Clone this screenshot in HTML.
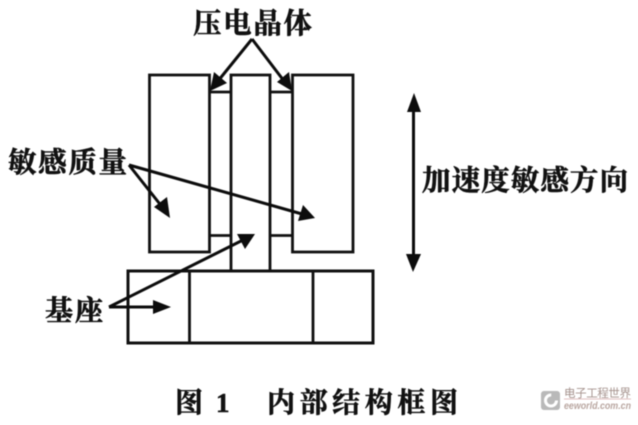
<!DOCTYPE html>
<html lang="zh">
<head>
<meta charset="utf-8">
<style>
html,body{margin:0;padding:0;background:#fff}
svg{display:block;filter:blur(.5px)}
text{font-family:"Liberation Serif","Noto Serif CJK SC",serif;font-weight:700;fill:#111;stroke:#111;stroke-width:.55px}
text.logo{stroke:none}
</style>
</head>
<body>
<svg width="638" height="425" viewBox="0 0 638 425" xmlns="http://www.w3.org/2000/svg">
<rect width="638" height="425" fill="#fff"/>
<g fill="none" stroke="#111" stroke-width="2.800">
<rect x="149.500" y="75" width="60" height="177"/>
<rect x="231" y="75" width="39" height="196"/>
<rect x="292.500" y="75" width="60.500" height="177"/>
<path d="M209.500 92H231M270 92H292.500M209.500 235.500H231M270 235.500H292.500"/>
<rect x="128" y="271" width="245" height="72" stroke-width="3"/>
<path d="M189.500 271V343M313 271V343" stroke-width="2.800"/>
</g>
<g stroke="#0c0c0c" stroke-width="3" fill="none">
<path d="M252 39L218 81M252 39L284 81"/>
<path d="M129 165L163 208M129 165L302 214"/>
<path d="M109 307L243 240M109 307H158"/>
<path d="M413.500 105V262"/>
</g>
<g fill="#0c0c0c">
<path d="M210 91L214 72L227 83Z"/>
<path d="M292 91L277 82L289 72Z"/>
<path d="M170 218L154 207L167 197Z"/>
<path d="M315 218L298 221L303 205Z"/>
<path d="M255 234L245 249L237 234Z"/>
<path d="M171 307L153 314V300Z"/>
<path d="M414 93L421 112H407Z"/>
<path d="M413 272L406 254H421Z"/>
</g>
<text x="193" y="33" font-size="28.500" textLength="119" lengthAdjust="spacing">压电晶体</text>
<text x="8" y="172" font-size="28.500" textLength="119" lengthAdjust="spacing">敏感质量</text>
<text x="45" y="320" font-size="28" textLength="58" lengthAdjust="spacing">基座</text>
<text x="422" y="190" font-size="28.500" textLength="206" lengthAdjust="spacing">加速度敏感方向</text>
<text x="175" y="412" font-size="28">图</text>
<text x="216" y="412" font-size="27">1</text>
<text x="267" y="412" font-size="28" textLength="191" lengthAdjust="spacing">内部结构框图</text>
<g opacity=".6">
<rect x="541" y="391" width="19" height="19" rx="3" fill="#8b8b8b"/>
<circle cx="551" cy="400.500" r="5.500" fill="none" stroke="#fff" stroke-width="3" stroke-dasharray="26 9"/>
<text class="logo" x="564" y="397" font-size="11.500" textLength="67" lengthAdjust="spacing" style="fill:#6a4a42;font-family:'Liberation Sans','Noto Sans CJK SC',sans-serif;font-weight:400">电子工程世界</text>
<text class="logo" x="564" y="409" font-size="10.500" textLength="67" lengthAdjust="spacingAndGlyphs" style="fill:#8a6a60;font-family:'Liberation Sans',sans-serif;font-style:italic;font-weight:700">eeworld.com.cn</text>
<path d="M564 399H631" stroke="#c99" stroke-width="1"/>
</g>
</svg>
</body>
</html>
